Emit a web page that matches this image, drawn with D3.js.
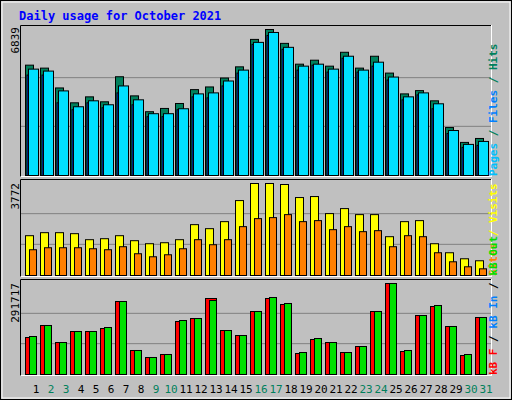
<!DOCTYPE html>
<html><head><meta charset="utf-8">
<script src="https://cdn.jsdelivr.net/npm/d3@7"></script>
<style>body{margin:0;background:#fff}text{font-family:"DejaVu Sans Mono",monospace}</style>
</head><body>
<svg id="chart" width="512" height="400"></svg>
<script>
var days = d3.range(1,32);
var weekend = [2,3,9,10,16,17,23,24,30,31];
var hits = [5169,5030,4101,3405,3684,3452,4626,3730,2988,3141,3373,4023,4148,4565,5090,6375,6839,6189,5215,5401,5122,5772,5030,5586,4797,3823,3976,3498,2246,1550,1735];
var files = [4983,4891,3963,3220,3499,3313,4195,3545,2895,2895,3127,3823,3870,4427,4937,6236,6700,6004,5123,5215,4983,5587,4937,5308,4612,3684,3870,3359,2107,1457,1596];
var pages = [4705,4705,3406,3081,3406,3174,3870,3313,2756,2756,3081,3684,3638,4195,4798,6143,6561,5911,4937,5169,4844,5494,4844,5123,4473,3545,3777,3127,1967,1318,1411];
var visits = [1632,1756,1756,1715,1468,1509,1632,1427,1303,1344,1468,2085,1920,2208,3072,3772,3772,3731,3196,3237,2538,2743,2496,2496,1591,2208,2250,1303,933,686,604];
var sites = [1056,1138,1138,1138,1097,1056,1180,892,768,850,1097,1468,1262,1468,2003,2332,2373,2496,2208,2250,1879,2003,1797,1838,1180,1632,1591,933,562,357,274];
var kbF = [118610,157080,102580,137845,137845,147460,234016,76937,54497,64114,169900,179516,243633,141050,125021,201958,243633,224399,67320,112199,102580,70525,89759,201958,291717,73731,189137,217988,153874,60908,182726];
var kbOut = [121815,157080,102580,137845,137845,150666,234016,76937,54497,64114,173105,179516,237222,141050,125021,201958,246839,227605,70525,115404,102580,70525,89759,201958,291717,76937,189137,221194,153874,64114,182726];

var svg = d3.select("#chart");
svg.append("rect").attr("x",0.5).attr("y",0.5).attr("width",511).attr("height",399).attr("fill","#c0c0c0").attr("stroke","#000");
svg.append("rect").attr("x",2).attr("y",2).attr("width",508).attr("height",396).attr("fill","none").attr("stroke","#fff");
svg.append("text").attr("x",19).attr("y",20).attr("fill","#0000ff").attr("font-weight","bold").attr("font-size",12).text("Daily usage for October 2021");

var x = d3.scaleBand().domain(days).range([25,490]);

function panel(top,bottom,max){
    svg.append("rect").attr("x",20.5).attr("y",top+0.5).attr("width",471).attr("height",bottom-top).attr("fill","none").attr("stroke","#fff");
    svg.append("path").attr("d","M20.5,"+(bottom+0.5)+"V"+(top+0.5)+"H491").attr("stroke","#000").attr("fill","none");
    var y = d3.scaleLinear().domain([0,max]).range([bottom-1,top+4]);
    var h = bottom-1-(top+4);
    [1,2].forEach(function(k){
        svg.append("line").attr("x1",21).attr("x2",491).attr("y1",bottom-1-h*k/3).attr("y2",bottom-1-h*k/3).attr("stroke","#808080");
    });
    return y;
}

function bars(y,data,off,w,color){
    svg.append("g").selectAll("rect").data(data).join("rect")
        .attr("x",function(d,i){return x(days[i])+off+0.5})
        .attr("y",function(d){return y(d)+0.5})
        .attr("width",w)
        .attr("height",function(d){return y(0)-y(d)})
        .attr("fill",color).attr("stroke","#000");
}

function leftLabel(txt,top){
    svg.append("text").attr("transform","translate(19,"+(top+2)+") rotate(-90)").attr("text-anchor","end").attr("font-size",11).attr("fill","#000").text(txt);
}
function rightLabel(parts,y0){
    var t = svg.append("text").attr("transform","translate(497,"+y0+") rotate(-90)").attr("font-size",11).attr("font-weight","bold");
    parts.forEach(function(p){t.append("tspan").attr("fill",p[1]).text(p[0])});
}

var y1 = panel(25,176,6839);
bars(y1,hits,0,8,"#00805c");
bars(y1,pages,1.5,8,"#0040ff");
bars(y1,files,3,10,"#00e0ff");
leftLabel("6839",25);
rightLabel([["Pages","#00c0ff"],[" / ","#00805c"],["Files","#0080ff"],[" / ","#00805c"],["Hits","#00805c"]],176);

var y2 = panel(179,276,3772);
bars(y2,visits,0,8,"#ffff00");
bars(y2,sites,4,7,"#ff8000");
leftLabel("3772",181);
rightLabel([["Sites","#ff8000"],[" / ","#ffff00"],["Visits","#ffff00"]],276);

var y3 = panel(279,375,291717);
bars(y3,kbF,0,11,"#ff0000");
bars(y3,kbOut,4,7,"#00e000");
leftLabel("291717",281);
rightLabel([["kB F","#ff0000"],[" / ","#000"],["kB In","#0080ff"],[" / ","#000"],["kB Out","#00e000"]],375);

svg.append("g").selectAll("text").data(days).join("text")
    .attr("x",function(d){return x(d)+11})
    .attr("y",393).attr("text-anchor","middle").attr("font-size",11).attr("font-family","DejaVu Sans")
    .attr("fill",function(d){return weekend.indexOf(d)>=0?"#00805c":"#000"})
    .text(function(d){return d});
</script>
</body></html>
